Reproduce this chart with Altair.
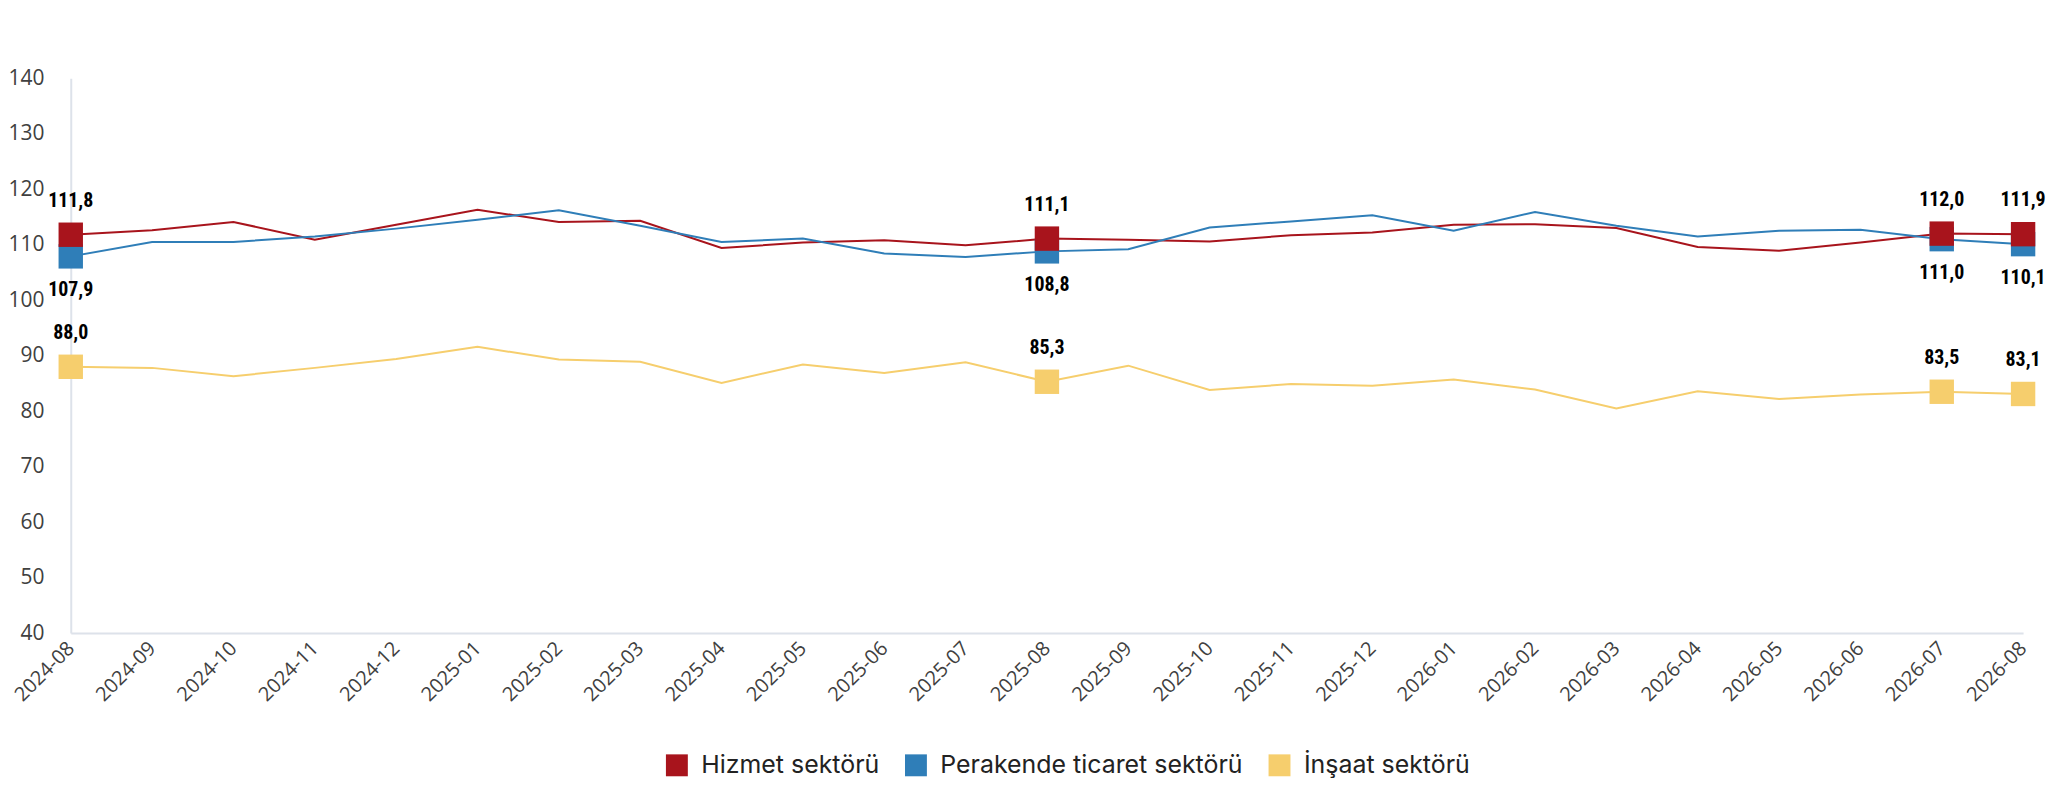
import altair as alt
import pandas as pd

months = ["2024-08", "2024-09", "2024-10", "2024-11", "2024-12",
          "2025-01", "2025-02", "2025-03", "2025-04", "2025-05", "2025-06",
          "2025-07", "2025-08", "2025-09", "2025-10", "2025-11", "2025-12",
          "2026-01", "2026-02", "2026-03", "2026-04", "2026-05", "2026-06",
          "2026-07", "2026-08"]

hizmet = [111.8, 112.6, 114.1, 110.9, 113.6, 116.3, 114.1, 114.3, 109.4, 110.4,
          110.8, 109.9, 111.1, 110.9, 110.6, 111.7, 112.2, 113.6, 113.7, 113.0,
          109.6, 108.9, 110.4, 112.0, 111.9]
perakende = [107.9, 110.5, 110.5, 111.5, 112.9, 114.5, 116.2, 113.4, 110.5, 111.1,
             108.4, 107.8, 108.8, 109.2, 113.1, 114.2, 115.3, 112.5, 115.9, 113.4,
             111.5, 112.5, 112.7, 111.0, 110.1]
insaat = [88.0, 87.8, 86.3, 87.8, 89.4, 91.6, 89.3, 88.9, 85.1, 88.4,
          86.9, 88.8, 85.3, 88.2, 83.8, 84.9, 84.6, 85.7, 83.9, 80.5,
          83.6, 82.2, 83.0, 83.5, 83.1]

series_names = ["Hizmet sektörü", "Perakende ticaret sektörü", "İnşaat sektörü"]
series_colors = ["#A8141C", "#2F7EB8", "#F6CE6D"]
series_z = [3, 2, 1]
marked_months = ["2024-08", "2025-08", "2026-07", "2026-08"]
y_ticks = [40, 50, 60, 70, 80, 90, 100, 110, 120, 130, 140]

rows = []
for name, vals, z in zip(series_names, [hizmet, perakende, insaat], series_z):
    for m, v in zip(months, vals):
        rows.append({"month": m, "series": name, "value": v, "z": z,
                     "marked": m in marked_months})
df = pd.DataFrame(rows)

axis_font = "Open Sans"
label_font = "Liberation Sans Narrow, Arial Narrow, Roboto Condensed, Liberation Sans"

x = alt.X("month:O", sort=months,
          scale=alt.Scale(type="point", padding=0),
          axis=alt.Axis(title=None, labelAngle=-45, labelAlign="right",
                        labelBaseline="middle", labelPadding=12, ticks=False,
                        domainColor="#DDE2EA", domainWidth=2, grid=False,
                        labelFont=axis_font, labelFontSize=20,
                        labelColor="#404040"))
y = alt.Y("value:Q",
          scale=alt.Scale(domain=[40, 140], nice=False, zero=False),
          axis=alt.Axis(title=None, values=y_ticks, ticks=False, grid=False,
                        labelPadding=27, domainColor="#DDE2EA", domainWidth=2,
                        labelFont=axis_font, labelFontSize=21,
                        labelColor="#404040"))

base = alt.Chart(df)

# line colours: data-driven domain (same order) so its hidden legend is not merged
lines = base.mark_line(strokeWidth=2).encode(
    x=x, y=y,
    stroke=alt.Stroke("series:N", sort=series_names,
                      scale=alt.Scale(range=series_colors), legend=None),
)

points = base.transform_filter("datum.marked").mark_square(
    size=600, opacity=1, filled=True
).encode(
    x=x, y=y,
    fill=alt.Fill("series:N",
                  scale=alt.Scale(domain=series_names, range=series_colors),
                  legend=alt.Legend(title=None, orient="none",
                                    legendX=596, legendY=677,
                                    direction="horizontal",
                                    symbolType="square", symbolSize=484,
                                    symbolStrokeWidth=0, symbolOpacity=1,
                                    labelFont="Inter", labelFontSize=25,
                                    labelColor="#222222", labelLimit=0,
                                    columnPadding=24, labelOffset=12)),
    order=alt.Order("z:Q"),
)

label_expr = "replace(format(datum.value, '.1f'), '.', ',')"

texts_up = base.transform_filter(
    "datum.marked && datum.series != 'Perakende ticaret sektörü'"
).transform_calculate(label=label_expr).mark_text(
    dy=-34, font=label_font, fontSize=20, fontWeight="bold", color="#000000"
).encode(x=x, y=y, text="label:N")

texts_down = base.transform_filter(
    "datum.marked && datum.series == 'Perakende ticaret sektörü'"
).transform_calculate(label=label_expr).mark_text(
    dy=34, font=label_font, fontSize=20, fontWeight="bold", color="#000000"
).encode(x=x, y=y, text="label:N")

chart = alt.layer(lines, points, texts_up, texts_down).properties(
    width=1960, height=557,
    autosize=alt.AutoSizeParams(type="none"),
    padding={"left": 63, "top": 69, "right": 24, "bottom": 160},
    background="white",
).configure_view(stroke=None)

chart.save("out.html", embed_options={"renderer": "svg", "actions": False})
